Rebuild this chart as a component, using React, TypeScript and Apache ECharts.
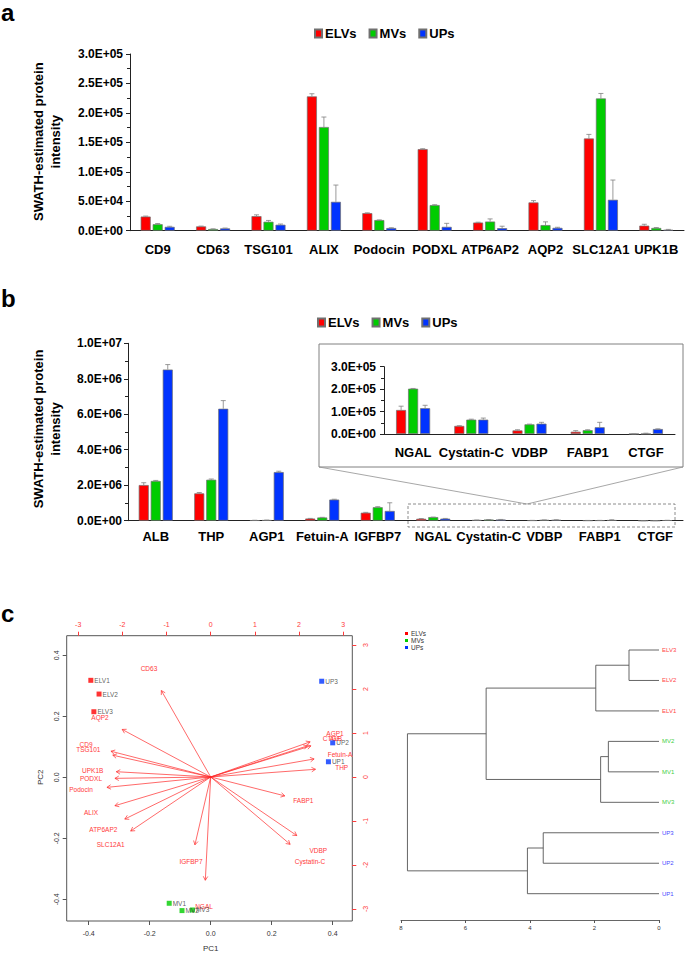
import React, { useEffect, useRef } from "react";
import * as echarts from "echarts";

const FONT = "'Liberation Sans', Arial, Helvetica, sans-serif";
const RED = "#FF0000";
const GREEN = "#00CC00";
const BLUE = "#0033FF";
const groups = ["ELVs", "MVs", "UPs"];

// ---------- Panel a ----------
const catsA = ["CD9", "CD63", "TSG101", "ALIX", "Podocin", "PODXL", "ATP6AP2", "AQP2", "SLC12A1", "UPK1B"];
const elvA = [24000, 7300, 24700, 228000, 29800, 138500, 13800, 48000, 156500, 8600];
const mvA = [11000, 2800, 15200, 176000, 18000, 43500, 15500, 9500, 224500, 4600];
const upA = [6500, 3900, 10100, 49000, 4500, 6500, 4300, 4800, 52500, 1500];
const elvAErr = [800, 500, 2200, 4500, 500, 700, 600, 3000, 7000, 2300];
const mvAErr = [1200, 400, 2200, 17000, 300, 600, 4500, 5500, 8500, 800];
const upAErr = [1000, 600, 1200, 28500, 500, 6000, 3300, 1000, 33500, 700];
const yTicksA = [0, 50000, 100000, 150000, 200000, 250000, 300000];

// ---------- Panel b ----------
const catsB = ["ALB", "THP", "AGP1", "Fetuin-A", "IGFBP7", "NGAL", "Cystatin-C", "VDBP", "FABP1", "CTGF"];
const elvB = [2010000, 1540000, 20000, 120000, 450000, 107000, 36000, 16000, 10000, 200];
const mvB = [2240000, 2310000, 30000, 180000, 760000, 202000, 64000, 43000, 17000, 500];
const upB = [8520000, 6310000, 2740000, 1190000, 550000, 115000, 64000, 46000, 30000, 22000];
const elvBErr = [130000, 50000, 5000, 10000, 20000, 17000, 1000, 3000, 5000, 0];
const mvBErr = [30000, 40000, 5000, 10000, 30000, 1000, 2000, 1000, 2000, 3000];
const upBErr = [280000, 460000, 50000, 20000, 460000, 13000, 7000, 6000, 22000, 1000];
const yTicksB = [0, 2000000, 4000000, 6000000, 8000000, 10000000];
const insetStart = 5; // NGAL..CTGF shown in the inset
const yTicksInset = [0, 100000, 200000, 300000];

// ---------- Panel c : PCA biplot ----------
const samples = ["ELV1", "ELV2", "ELV3", "MV1", "MV2", "MV3", "UP1", "UP2", "UP3"];
const sampleGroup = [0, 0, 0, 1, 1, 1, 2, 2, 2];
const pc1 = [-0.393, -0.366, -0.383, -0.136, -0.094, -0.060, 0.386, 0.400, 0.364];
const pc2 = [0.318, 0.273, 0.215, -0.413, -0.437, -0.435, 0.051, 0.113, 0.315];
const loadNames = ["CD9", "CD63", "TSG101", "ALIX", "Podocin", "PODXL", "ATP6AP2", "AQP2", "SLC12A1", "UPK1B",
  "ALB", "THP", "AGP1", "Fetuin-A", "IGFBP7", "NGAL", "Cystatin-C", "VDBP", "FABP1", "CTGF"];
const loadX = [-2.823, -1.397, -2.771, -2.710, -2.936, -2.710, -2.431, -2.506, -2.264, -2.672,
  2.837, 2.966, 2.814, 2.927, -0.446, -0.152, 2.248, 2.437, 2.097, 2.739];
const loadY = [0.732, 2.456, 0.619, -0.816, -0.295, -0.039, -1.195, 1.351, -1.535, 0.150,
  0.884, 0.218, 0.998, 0.512, -1.927, -2.934, -1.913, -1.664, -0.537, 0.884];
const pcTicks = [-0.4, -0.2, 0, 0.2, 0.4];
const loadTicks = [-3, -2, -1, 0, 1, 2, 3];

// ---------- Panel c : dendrogram ----------
const leafNames = ["ELV3", "ELV2", "ELV1", "MV2", "MV1", "MV3", "UP3", "UP2", "UP1"];
const leafGroup = [0, 0, 0, 1, 1, 1, 2, 2, 2];
// hclust-style merges: negative = leaf (1-based), positive = earlier merge (1-based)
const mergeLeft = [-1, 1, -4, 3, 2, -7, 6, 5];
const mergeRight = [-2, -3, -5, -6, 4, -8, -9, 7];
const mergeHeight = [0.93, 1.96, 1.57, 1.81, 5.36, 3.59, 4.08, 7.80];
const dendroTicks = [0, 2, 4, 6, 8];

const groupColors = [RED, GREEN, BLUE];
const leafColors = ["#FF4545", "#3FCF3F", "#4A4AFF"];

const sci = (v: number) => {
  if (v === 0) return "0.0E+00";
  const e = Math.floor(Math.log10(v) + 1e-9);
  const m = v / Math.pow(10, e);
  return m.toFixed(1) + "E+" + String(e).padStart(2, "0");
};

function nodePos(id: number): [number, number] {
  if (id < 0) return [0, -id - 1];
  const k = id - 1;
  const l = nodePos(mergeLeft[k]);
  const r = nodePos(mergeRight[k]);
  return [mergeHeight[k], (l[1] + r[1]) / 2];
}

function yVal(gi: number, ticks: number[], margin: number) {
  return {
    type: "value",
    gridIndex: gi,
    min: ticks[0],
    max: ticks[ticks.length - 1],
    interval: ticks[1] - ticks[0],
    axisLine: { show: true, lineStyle: { color: "#222", width: 1 } },
    axisTick: { show: true, length: 4, lineStyle: { color: "#222" } },
    minorTick: { show: true, splitNumber: 2, length: 3, lineStyle: { color: "#222" } },
    splitLine: { show: false },
    minorSplitLine: { show: false },
    axisLabel: { formatter: sci, fontSize: 12, fontWeight: "bold", color: "#000", fontFamily: FONT, margin },
  };
}

function xCat(gi: number, data: string[], margin: number) {
  return {
    type: "category",
    gridIndex: gi,
    data,
    axisLine: { lineStyle: { color: "#222", width: 1 } },
    axisTick: { alignWithLabel: true, length: 4, lineStyle: { color: "#222" } },
    axisLabel: { fontSize: 13, fontWeight: "bold", color: "#000", fontFamily: FONT, margin, interval: 0 },
  };
}

function barSeries(name: string, color: string, xi: number, data: number[]) {
  return {
    type: "bar",
    name,
    xAxisIndex: xi,
    yAxisIndex: xi,
    data,
    barWidth: 10,
    barGap: "20%",
    z: 2,
    itemStyle: { color, borderColor: "#707070", borderWidth: 0.7 },
  };
}

function errSeries(xi: number, vals: number[], errs: number[], offset: number) {
  return {
    type: "custom",
    xAxisIndex: xi,
    yAxisIndex: xi,
    silent: true,
    z: 3,
    data: vals.map((v, i) => [i, v, v + errs[i]]),
    renderItem: (params: any, api: any) => {
      const base = api.coord([api.value(0), api.value(1)]);
      const top = api.coord([api.value(0), api.value(2)]);
      const x = base[0] + offset;
      const st = { stroke: "#808080", lineWidth: 0.8 };
      return {
        type: "group",
        children: [
          { type: "line", shape: { x1: x, y1: base[1], x2: x, y2: top[1] }, style: st },
          { type: "line", shape: { x1: x - 2.5, y1: top[1], x2: x + 2.5, y2: top[1] }, style: st },
        ],
      };
    },
  };
}

function panelSeries(xi: number, e: number[], m: number[], u: number[], ee: number[], me: number[], ue: number[]) {
  return [
    barSeries("ELVs", RED, xi, e),
    barSeries("MVs", GREEN, xi, m),
    barSeries("UPs", BLUE, xi, u),
    errSeries(xi, e, ee, -12),
    errSeries(xi, m, me, 0),
    errSeries(xi, u, ue, 12),
  ];
}

const legendBase = {
  itemWidth: 7,
  itemHeight: 8,
  itemGap: 12,
  icon: "rect",
  selectedMode: false,
  data: groups,
  textStyle: { fontSize: 13, fontWeight: "bold", color: "#000", fontFamily: FONT, padding: [0, 0, 0, -2] },
};

const smallFont = (size: number, weight = "normal") => `${weight} ${size}px ${FONT}`;

function buildOption() {
  const sl = (a: number[]) => a.slice(insetStart);
  const series: any[] = [
    ...panelSeries(0, elvA, mvA, upA, elvAErr, mvAErr, upAErr),
    ...panelSeries(1, elvB, mvB, upB, elvBErr, mvBErr, upBErr),
    ...panelSeries(2, sl(elvB), sl(mvB), sl(upB), sl(elvBErr), sl(mvBErr), sl(upBErr)),
  ];

  // biplot loadings (arrows at 0.8 of loading, label at loading, as R biplot)
  series.push({
    type: "custom",
    xAxisIndex: 4,
    yAxisIndex: 4,
    silent: true,
    z: 3,
    data: loadX.map((x, i) => [x, loadY[i]]),
    renderItem: (params: any, api: any) => {
      const lx = api.value(0);
      const ly = api.value(1);
      const o = api.coord([0, 0]);
      const tip = api.coord([lx * 0.8, ly * 0.8]);
      const lab = api.coord([lx, ly]);
      const ang = Math.atan2(tip[1] - o[1], tip[0] - o[0]);
      const L = 4.5;
      const a = Math.PI / 6;
      const p1 = [tip[0] - L * Math.cos(ang - a), tip[1] - L * Math.sin(ang - a)];
      const p2 = [tip[0] - L * Math.cos(ang + a), tip[1] - L * Math.sin(ang + a)];
      const st = { stroke: "#FF2A2A", lineWidth: 0.7, fill: "none" };
      return {
        type: "group",
        children: [
          { type: "line", shape: { x1: o[0], y1: o[1], x2: tip[0], y2: tip[1] }, style: st },
          { type: "polyline", shape: { points: [p1, tip, p2] }, style: st },
          {
            type: "text",
            x: lab[0],
            y: lab[1],
            style: {
              text: loadNames[params.dataIndex],
              fill: "#FF3A3A",
              font: smallFont(6.5),
              textAlign: "center",
              textVerticalAlign: "middle",
            },
          },
        ],
      };
    },
  });

  // biplot scores
  groups.forEach((g, gi) => {
    series.push({
      type: "scatter",
      name: g,
      xAxisIndex: 3,
      yAxisIndex: 3,
      symbol: "rect",
      symbolSize: 5,
      z: 4,
      itemStyle: { color: groupColors[gi] },
      label: { show: true, position: "right", distance: 1, formatter: "{b}", fontSize: 6.5, color: "#333", fontFamily: FONT },
      data: samples
        .map((s, i) => ({ name: s, value: [pc1[i], pc2[i]], g: sampleGroup[i] }))
        .filter((d) => d.g === gi)
        .map((d) => ({ name: d.name, value: d.value })),
    });
  });

  // dendrogram branches
  series.push({
    type: "custom",
    xAxisIndex: 5,
    yAxisIndex: 5,
    silent: true,
    data: mergeHeight.map((h, i) => [h, i]),
    renderItem: (params: any, api: any) => {
      const k = params.dataIndex;
      const h = mergeHeight[k];
      const l = nodePos(mergeLeft[k]);
      const r = nodePos(mergeRight[k]);
      const a1 = api.coord([l[0], l[1]]);
      const a2 = api.coord([h, l[1]]);
      const b1 = api.coord([r[0], r[1]]);
      const b2 = api.coord([h, r[1]]);
      const st = { stroke: "#555", lineWidth: 0.9 };
      return {
        type: "group",
        children: [
          { type: "line", shape: { x1: a1[0], y1: a1[1], x2: a2[0], y2: a2[1] }, style: st },
          { type: "line", shape: { x1: b1[0], y1: b1[1], x2: b2[0], y2: b2[1] }, style: st },
          { type: "line", shape: { x1: a2[0], y1: a2[1], x2: b2[0], y2: b2[1] }, style: st },
        ],
      };
    },
  });

  // dendrogram leaf labels
  series.push({
    type: "custom",
    xAxisIndex: 5,
    yAxisIndex: 5,
    silent: true,
    data: leafNames.map((n, i) => [0, i]),
    renderItem: (params: any, api: any) => {
      const p = api.coord([0, api.value(1)]);
      return {
        type: "text",
        x: p[0] + 3,
        y: p[1],
        style: {
          text: leafNames[params.dataIndex],
          fill: leafColors[leafGroup[params.dataIndex]],
          font: smallFont(6),
          textAlign: "left",
          textVerticalAlign: "middle",
        },
      };
    },
  });

  const bx = 66.7, by = 635.7, bw = 285.6, bh = 285.3;

  return {
    animation: false,
    textStyle: { fontFamily: FONT },
    legend: [
      { ...legendBase, left: 309, top: 22 },
      { ...legendBase, left: 312, top: 311 },
      {
        orient: "vertical",
        left: 400,
        top: 625,
        itemWidth: 3,
        itemHeight: 3,
        itemGap: 0,
        icon: "rect",
        selectedMode: false,
        data: groups,
        itemStyle: { borderWidth: 0 },
        textStyle: { fontSize: 6.5, color: "#333", fontFamily: FONT, padding: [0, 0, 0, -2] },
      },
    ],
    grid: [
      { left: 130, top: 54, width: 554, height: 176.7 },
      { left: 128, top: 343.3, width: 555, height: 177.4 },
      { left: 384, top: 366.7, width: 291, height: 67.3 },
      { left: bx, top: by, width: bw, height: bh },
      { left: 401, top: 650, width: 258, height: 243.7 },
    ],
    xAxis: [
      xCat(0, catsA, 12),
      xCat(1, catsB, 9.5),
      xCat(2, catsB.slice(insetStart), 12),
      {
        type: "value", gridIndex: 3, position: "bottom", min: -0.4721, max: 0.4643,
        axisLine: { show: false, onZero: false }, splitLine: { show: false },
        axisTick: { show: true, length: 4, customValues: pcTicks, lineStyle: { color: "#555" } },
        axisLabel: { customValues: pcTicks, formatter: (v: number) => v.toFixed(1), fontSize: 7, color: "#333", margin: 9 },
      },
      {
        type: "value", gridIndex: 3, position: "top", min: -3.26, max: 3.206,
        axisLine: { show: false, onZero: false }, splitLine: { show: false },
        axisTick: { show: true, length: 4, customValues: loadTicks, lineStyle: { color: "#FF3A3A" } },
        axisLabel: { customValues: loadTicks, formatter: (v: number) => String(v), fontSize: 7, color: "#FF3A3A", margin: 8 },
      },
      {
        type: "value", gridIndex: 4, position: "bottom", min: 0, max: 8, interval: 2, inverse: true, offset: 26.3,
        splitLine: { show: false },
        axisLine: { show: true, onZero: false, lineStyle: { color: "#555", width: 0.9 } },
        axisTick: { show: true, length: 3, lineStyle: { color: "#555" } },
        axisLabel: { fontSize: 6, color: "#333", margin: 5, customValues: dendroTicks },
      },
    ],
    yAxis: [
      yVal(0, yTicksA, 7),
      yVal(1, yTicksB, 6),
      yVal(2, yTicksInset, 8),
      {
        type: "value", gridIndex: 3, position: "left", min: -0.4711, max: 0.4643,
        axisLine: { show: false, onZero: false }, splitLine: { show: false },
        axisTick: { show: true, length: 4, customValues: pcTicks, lineStyle: { color: "#555" } },
        axisLabel: { customValues: pcTicks, formatter: (v: number) => v.toFixed(1), fontSize: 7, color: "#333", rotate: 90, margin: 7 },
      },
      {
        type: "value", gridIndex: 3, position: "right", min: -3.273, max: 3.211,
        axisLine: { show: false, onZero: false }, splitLine: { show: false },
        axisTick: { show: true, length: 4, customValues: loadTicks, lineStyle: { color: "#FF3A3A" } },
        axisLabel: { customValues: loadTicks, formatter: (v: number) => String(v), fontSize: 7, color: "#FF3A3A", rotate: 90, margin: 10 },
      },
      { type: "value", gridIndex: 4, min: 0, max: 8, inverse: true, show: false, axisLine: { onZero: false } },
    ],
    series,
    graphic: [
      { type: "text", x: 1, y: 0, style: { text: "a", font: smallFont(24, "bold"), fill: "#000", textVerticalAlign: "top" } },
      { type: "text", x: 1, y: 286, style: { text: "b", font: smallFont(24, "bold"), fill: "#000", textVerticalAlign: "top" } },
      { type: "text", x: 1, y: 601, style: { text: "c", font: smallFont(24, "bold"), fill: "#000", textVerticalAlign: "top" } },
      {
        type: "text", x: 46.5, y: 141.7, rotation: Math.PI / 2,
        style: { text: "SWATH-estimated protein\nintensity", font: smallFont(13, "bold"), fill: "#000", textAlign: "center", textVerticalAlign: "middle", lineHeight: 17 },
      },
      {
        type: "text", x: 46.5, y: 429, rotation: Math.PI / 2,
        style: { text: "SWATH-estimated protein\nintensity", font: smallFont(13, "bold"), fill: "#000", textAlign: "center", textVerticalAlign: "middle", lineHeight: 17 },
      },
      // inset frame and zoom guides
      { type: "rect", shape: { x: 319, y: 344, width: 364, height: 123 }, style: { fill: "none", stroke: "#808080", lineWidth: 1 } },
      { type: "rect", shape: { x: 408, y: 504, width: 267, height: 23 }, style: { fill: "none", stroke: "#707070", lineWidth: 0.8, lineDash: [3, 2] } },
      { type: "line", shape: { x1: 319, y1: 467, x2: 527, y2: 504 }, style: { stroke: "#909090", lineWidth: 0.8 } },
      { type: "line", shape: { x1: 683, y1: 467, x2: 527, y2: 504 }, style: { stroke: "#909090", lineWidth: 0.8 } },
      // biplot frame and axis titles
      { type: "rect", shape: { x: bx, y: by, width: bw, height: bh }, style: { fill: "none", stroke: "#555", lineWidth: 1 } },
      { type: "text", x: 210.7, y: 948, style: { text: "PC1", font: smallFont(8), fill: "#333", textAlign: "center", textVerticalAlign: "middle" } },
      { type: "text", x: 40, y: 777.3, rotation: Math.PI / 2, style: { text: "PC2", font: smallFont(8), fill: "#333", textAlign: "center", textVerticalAlign: "middle" } },
    ],
  };
}

export default function App() {
  const ref = useRef<HTMLDivElement>(null);
  useEffect(() => {
    document.body.style.margin = "0";
    const chart = echarts.init(ref.current as HTMLDivElement, null, { renderer: "svg" });
    chart.setOption(buildOption() as any);
    return () => chart.dispose();
  }, []);
  return <div ref={ref} style={{ width: 685, height: 953, background: "#fff" }} />;
}
